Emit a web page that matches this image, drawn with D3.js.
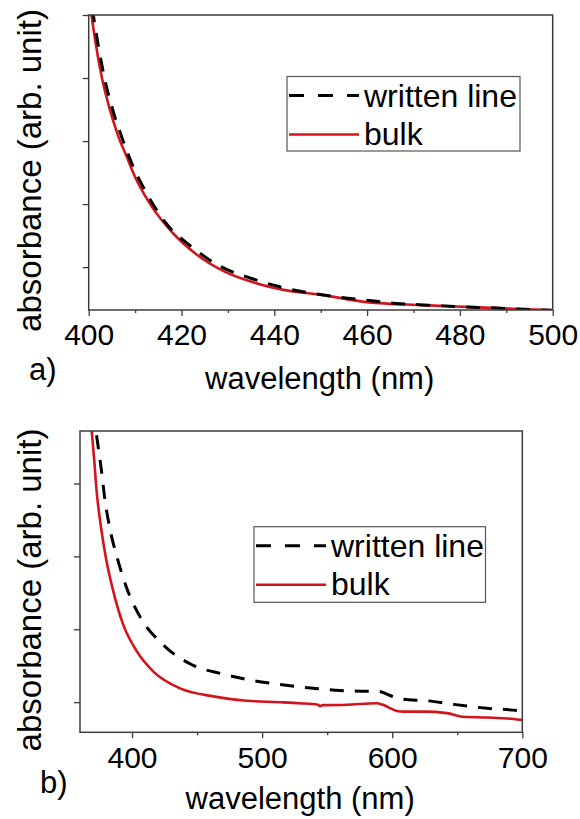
<!DOCTYPE html>
<html>
<head>
<meta charset="utf-8">
<script src="https://cdn.jsdelivr.net/npm/d3@7"></script>
<style>
  html, body { margin: 0; padding: 0; background: #fff; }
  svg { display: block; font-family: Arial, "Liberation Sans", sans-serif; }
</style>
</head>
<body>
<svg id="chart" width="580" height="819"></svg>
<script>
//
// Data (absorbance in arbitrary units)
//

// panel a) 400-500 nm
const aTicksX = [400, 420, 440, 460, 480, 500]
const aMinorX = [410, 430, 450, 470, 490]
const aTicksY = [1, 2, 3, 4, 5]
const aBulkNm = [400, 400.65, 401.5, 402.8, 404.6, 406.4, 408.2, 410, 413.6, 417.9, 422.9, 429.4, 435.1, 442.3, 450.5, 460, 472, 482.8, 493.6, 500]
const aBulkAbs = [5.3, 4.97, 4.55, 4.02, 3.49, 3.07, 2.75, 2.43, 1.96, 1.56, 1.22, 0.925, 0.767, 0.635, 0.556, 0.445, 0.397, 0.365, 0.333, 0.317]
const aLineNm = [400, 401, 402.1, 403.5, 405, 407.1, 409.6, 412.5, 416.4, 422.2, 428.7, 435.1, 441.6, 453.4, 459.9, 467.1, 473.6, 480, 486.9, 494, 500]
const aLineAbs = [5.5, 5.0, 4.5, 3.97, 3.54, 3.07, 2.59, 2.17, 1.72, 1.32, 1.0, 0.82, 0.68, 0.53, 0.476, 0.42, 0.397, 0.37, 0.354, 0.33, 0.317]

// panel b) 360-700 nm
const bTicksX = [400, 500, 600, 700]
const bMinorX = [450, 550, 650]
const bTicksY = [1, 2, 3, 4]
const bBulkNm = [366, 369, 370.8, 372.8, 375.9, 380, 385.6, 393.3, 403.6, 416.4, 436.9, 462.5, 488.2, 513.8, 529, 543, 544.6, 546.5, 549.8, 565, 588.2, 593.3, 603.6, 608.7, 624.1, 642, 654.8, 672.8, 693.3, 700]
const bBulkAbs = [5.4, 4.72, 4.35, 3.89, 3.43, 2.97, 2.52, 2.06, 1.7, 1.42, 1.19, 1.08, 1.02, 1.0, 0.985, 0.965, 0.945, 0.96, 0.96, 0.965, 0.985, 0.96, 0.88, 0.87, 0.87, 0.85, 0.8, 0.79, 0.77, 0.755]
const bLineNm = [370, 372.3, 373.2, 376.4, 379, 383.1, 388.6, 395.4, 406.2, 423.8, 446.4, 469, 492.1, 511.3, 539.5, 560, 583, 589, 601, 608.7, 626.7, 647.2, 672.8, 698.5, 700]
const bLineAbs = [5.0, 4.72, 4.6, 4.19, 3.8, 3.37, 2.98, 2.59, 2.17, 1.79, 1.51, 1.39, 1.3, 1.25, 1.19, 1.16, 1.15, 1.15, 1.075, 1.04, 1.02, 0.97, 0.916, 0.88, 0.875]

const seriesNames = ['written line', 'bulk']

//
// Style
//
var colorBulk = '#d3141c'
var colorLine = '#000'
var colorFrame = '#3c3c3c'

const svg = d3.select('#chart')

function zip(xs, ys) {
  return xs.map((x, i) => [x, ys[i]])
}

function panel(opt) {
  const x = d3.scaleLinear().domain(opt.xDomain).range([opt.left, opt.right])
  const y = d3.scaleLinear().domain(opt.yDomain).range([opt.bottom, opt.top])
  const g = svg.append('g')

  g.append('clipPath').attr('id', opt.id + '-clip')
    .append('rect')
    .attr('x', opt.left).attr('y', opt.top)
    .attr('width', opt.right - opt.left).attr('height', opt.bottom - opt.top)

  // minor + major ticks on x
  g.append('g')
    .attr('transform', `translate(0,${opt.bottom})`)
    .call(d3.axisBottom(x).tickValues(opt.minorX).tickSize(3).tickFormat(''))
  const xa = g.append('g')
    .attr('transform', `translate(0,${opt.bottom})`)
    .call(d3.axisBottom(x).tickValues(opt.ticksX).tickSize(6).tickPadding(opt.pad).tickFormat(d3.format('d')))
  xa.selectAll('text').attr('font-size', 30).attr('fill', '#000')
  g.append('g')
    .attr('transform', `translate(${opt.left},0)`)
    .call(d3.axisLeft(y).tickValues(opt.ticksY).tickSize(6).tickFormat(''))
  g.selectAll('.domain').remove()
  g.selectAll('.tick line').attr('stroke', colorFrame).attr('stroke-width', 1.3)

  const line = d3.line()
    .x((d) => x(d[0]))
    .y((d) => y(d[1]))
    .curve(d3.curveMonotoneX)

  const curves = g.append('g').attr('clip-path', `url(#${opt.id}-clip)`)
  curves.append('path')
    .attr('d', line(zip(opt.bulkNm, opt.bulkAbs)))
    .attr('fill', 'none').attr('stroke', colorBulk).attr('stroke-width', 2.6)
  curves.append('path')
    .attr('d', line(zip(opt.lineNm, opt.lineAbs)))
    .attr('fill', 'none').attr('stroke', colorLine).attr('stroke-width', 3)
    .attr('stroke-dasharray', '14,11')

  g.append('rect')
    .attr('x', opt.left).attr('y', opt.top)
    .attr('width', opt.right - opt.left).attr('height', opt.bottom - opt.top)
    .attr('fill', 'none').attr('stroke', colorFrame).attr('stroke-width', 1.5)

  // legend
  const lg = opt.legend
  g.append('rect')
    .attr('x', lg.x).attr('y', lg.y).attr('width', lg.w).attr('height', lg.h)
    .attr('fill', '#fff').attr('stroke', '#555').attr('stroke-width', 1.2)
  g.append('line')
    .attr('x1', lg.x + 2).attr('x2', lg.x + 72)
    .attr('y1', lg.y + 19).attr('y2', lg.y + 19)
    .attr('stroke', colorLine).attr('stroke-width', 3).attr('stroke-dasharray', '15,14')
  g.append('line')
    .attr('x1', lg.x + 2).attr('x2', lg.x + 72)
    .attr('y1', lg.y + 58).attr('y2', lg.y + 58)
    .attr('stroke', colorBulk).attr('stroke-width', 2.6)
  g.selectAll('text.leg')
    .data(seriesNames)
    .join('text')
    .attr('class', 'leg')
    .attr('x', lg.x + 77)
    .attr('y', (d, i) => lg.y + 30 + i * 38)
    .attr('font-size', 32)
    .text((d) => d)

  // axis titles
  g.append('text')
    .attr('x', (opt.left + opt.right) / 2 - 1)
    .attr('y', opt.xTitleY)
    .attr('text-anchor', 'middle')
    .attr('font-size', 31)
    .text('wavelength (nm)')
  g.append('text')
    .attr('transform', `translate(41,${opt.yTitleY}) rotate(-90)`)
    .attr('text-anchor', 'middle')
    .attr('font-size', 33)
    .text('absorbance (arb. unit)')
  g.append('text')
    .attr('x', opt.tagX).attr('y', opt.tagY)
    .attr('font-size', 31)
    .text(opt.tag)
}

panel({
  id: 'a', tag: 'a)', tagX: 29, tagY: 380,
  left: 88.7, right: 552.7, top: 15, bottom: 310,
  xDomain: [400, 500], yDomain: [0.32, 5.0],
  ticksX: aTicksX, minorX: aMinorX, ticksY: aTicksY, pad: 7.7,
  bulkNm: aBulkNm, bulkAbs: aBulkAbs, lineNm: aLineNm, lineAbs: aLineAbs,
  legend: { x: 287, y: 76.5, w: 233, h: 74.5 },
  xTitleY: 389, yTitleY: 170.5,
})

panel({
  id: 'b', tag: 'b)', tagX: 40, tagY: 793,
  left: 80, right: 522.3, top: 431, bottom: 732.3,
  xDomain: [360, 700], yDomain: [0.587, 4.72],
  ticksX: bTicksX, minorX: bMinorX, ticksY: bTicksY, pad: 8.7,
  bulkNm: bBulkNm, bulkAbs: bBulkAbs, lineNm: bLineNm, lineAbs: bLineAbs,
  legend: { x: 254, y: 526.7, w: 231.5, h: 75.6 },
  xTitleY: 809, yTitleY: 590,
})
</script>
</body>
</html>
